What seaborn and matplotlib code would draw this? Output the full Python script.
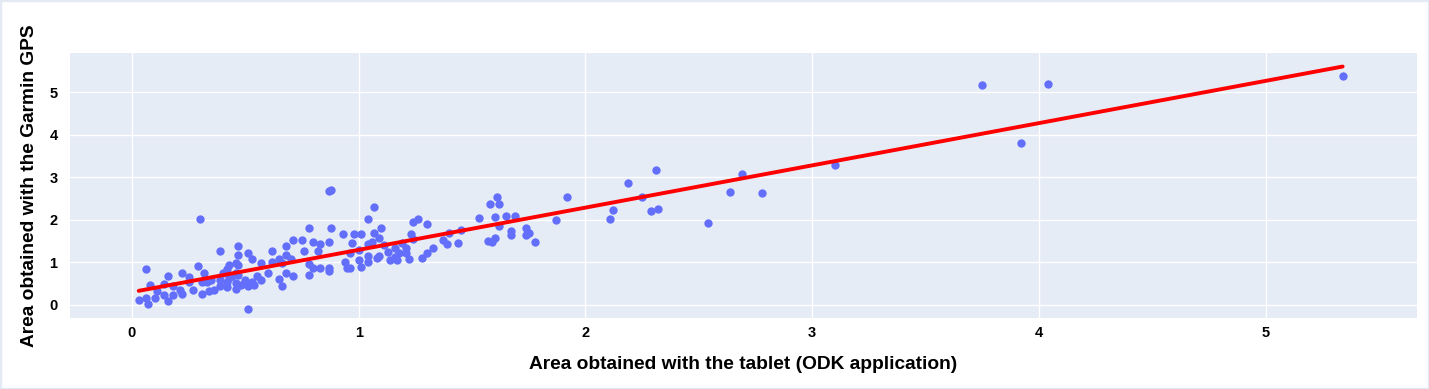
import numpy as np
import pandas as pd
import matplotlib.pyplot as plt
import seaborn as sns
from matplotlib.patches import Rectangle

# Plot areas: tablet (ODK) vs Garmin GPS
tablet_area = [
    0.30, 0.39, 0.06, 0.29, 0.22, 0.25, 0.16, 0.32, 0.08, 0.14,
    0.11, 0.18, 0.21, 0.27, 0.14, 0.18, 0.22, 0.10, 0.03, 0.06,
    0.07, 0.16, 0.31, 0.34, 0.36, 0.31, 0.33, 0.35, 0.39, 0.40,
    0.42, 0.43, 0.46, 0.47, 0.39, 0.42, 0.43, 0.42, 0.46, 0.46,
    0.44, 0.46, 0.47, 0.25,
    0.78, 0.88, 0.93, 0.71, 0.75, 0.80, 0.83, 0.87, 0.68, 0.76,
    0.82, 0.62, 0.51, 0.53, 0.57, 0.68, 0.65, 0.62, 0.66, 0.70,
    0.47, 0.78, 0.80, 0.83, 0.78, 0.87, 0.87, 0.94, 0.95, 0.71,
    0.68, 0.65, 0.66, 0.60, 0.57, 0.55, 0.53, 0.50, 0.48, 0.51,
    0.54, 0.47, 0.51, 0.87, 0.88,
    1.07, 1.04, 1.10, 0.98, 1.01, 1.07, 1.09, 1.06, 1.04, 1.11,
    0.97, 1.00, 0.96, 1.24, 1.26, 1.30, 1.23, 1.24, 1.19, 1.21,
    1.16, 1.13, 1.18, 1.21, 1.16, 1.14, 1.17, 1.22, 1.28, 1.30,
    1.33, 1.08, 1.09, 1.04, 1.04, 1.01, 1.00, 0.96, 1.37, 1.39,
    1.40, 1.44,
    1.61, 1.58, 1.62, 1.53, 1.60, 1.65, 1.69, 1.62, 1.45, 1.67,
    1.67, 1.57, 1.59, 1.60, 1.74, 1.75, 1.74, 1.78, 1.87, 1.92,
    2.11, 2.12, 2.19, 2.25, 2.31, 2.29, 2.32,
    2.54, 2.64, 2.69, 2.78, 3.10, 3.75, 3.92, 4.04, 5.34,
]
garmin_area = [
    2.02, 1.28, 0.84, 0.92, 0.75, 0.65, 0.67, 0.75, 0.47, 0.49,
    0.34, 0.45, 0.35, 0.35, 0.24, 0.24, 0.26, 0.17, 0.12, 0.16,
    0.02, 0.10, 0.25, 0.34, 0.35, 0.55, 0.55, 0.59, 0.59, 0.75,
    0.84, 0.94, 0.98, 1.39, 0.45, 0.42, 0.63, 0.55, 0.75, 0.51,
    0.67, 0.37, 0.94, 0.55,
    1.80, 1.82, 1.66, 1.53, 1.53, 1.49, 1.43, 1.49, 1.39, 1.28,
    1.28, 1.28, 1.22, 1.08, 0.98, 1.18, 1.09, 1.00, 0.98, 1.08,
    1.18, 0.97, 0.86, 0.86, 0.71, 0.86, 0.81, 1.00, 0.86, 0.68,
    0.75, 0.62, 0.45, 0.76, 0.59, 0.68, 0.55, 0.59, 0.47, 0.45,
    0.47, 0.71, -0.10, 2.68, 2.70,
    2.31, 2.02, 1.82, 1.66, 1.67, 1.70, 1.57, 1.47, 1.43, 1.41,
    1.45, 1.29, 1.23, 1.96, 2.03, 1.90, 1.67, 1.55, 1.45, 1.33,
    1.33, 1.25, 1.22, 1.23, 1.12, 1.06, 1.06, 1.08, 1.10, 1.22,
    1.33, 1.11, 1.15, 1.14, 1.00, 0.90, 1.06, 0.86, 1.53, 1.44,
    1.70, 1.45,
    2.55, 2.37, 2.38, 2.04, 2.06, 2.10, 2.09, 1.85, 1.76, 1.75,
    1.64, 1.51, 1.48, 1.57, 1.80, 1.69, 1.65, 1.48, 1.99, 2.54,
    2.02, 2.24, 2.86, 2.53, 3.17, 2.22, 2.26,
    1.93, 2.65, 3.08, 2.63, 3.29, 5.18, 3.80, 5.19, 5.38,
]

df = pd.DataFrame({"tablet": tablet_area, "garmin": garmin_area})

# plotly-like look: light blue panel, white grid, black text
sns.set_theme(style="darkgrid", rc={
    "axes.facecolor": "#E5ECF6",
    "grid.color": "white",
    "grid.linewidth": 1.0,
    "text.color": "black",
    "axes.labelcolor": "black",
    "xtick.color": "black",
    "ytick.color": "black",
})
plt.rcParams["font.family"] = ["Liberation Sans", "DejaVu Sans"]

fig = plt.figure(figsize=(14.29, 3.89), dpi=100)
fig.patch.set_facecolor("white")
ax = fig.add_axes([70 / 1429, 1 - 318 / 389, 1347 / 1429, 265.5 / 389])

sns.regplot(
    data=df, x="tablet", y="garmin", ax=ax, ci=None, truncate=True,
    scatter_kws={"s": 36, "color": "#636EFA", "alpha": 1, "linewidths": 0},
    line_kws={"color": "red", "linewidth": 2.8},
)

ax.set_xlim(-0.273, 5.668)
ax.set_ylim(-0.306, 5.936)
ax.set_xticks([0, 1, 2, 3, 4, 5])
ax.set_yticks([0, 1, 2, 3, 4, 5])
ax.tick_params(axis="both", length=0, labelsize=10.5)
ax.tick_params(axis="x", pad=6)
ax.tick_params(axis="y", pad=9)
for lbl in ax.get_xticklabels() + ax.get_yticklabels():
    lbl.set_fontweight("bold")
for s in ax.spines.values():
    s.set_visible(False)

ax.set_xlabel("Area obtained with the tablet (ODK application)",
              fontsize=13.8, fontweight="bold", labelpad=11)
ax.set_ylabel("Area obtained with the Garmin GPS",
              fontsize=13.8, fontweight="bold", labelpad=8)

# thin light frame round the whole picture
fig.patches.append(Rectangle((0, 0), 1, 1, transform=fig.transFigure,
                             fill=False, edgecolor="#E3EAF3", linewidth=2.5))

fig.savefig("out.png", dpi=100)
